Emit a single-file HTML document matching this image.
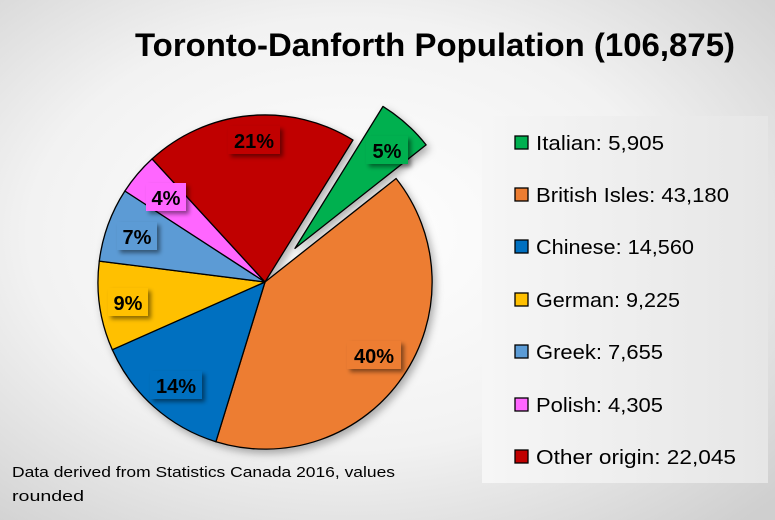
<!DOCTYPE html>
<html><head><meta charset="utf-8"><style>
html,body{margin:0;padding:0;width:775px;height:520px;overflow:hidden}
</style></head><body>
<svg width="775" height="520" viewBox="0 0 775 520" xmlns="http://www.w3.org/2000/svg" font-family="Liberation Sans, sans-serif">
<defs>
<radialGradient id="bg" cx="0.45" cy="0.45" r="0.75">
<stop offset="0" stop-color="#ffffff"/><stop offset="0.55" stop-color="#f2f2f2"/><stop offset="1" stop-color="#cfcfcf"/>
</radialGradient>
<linearGradient id="lg" x1="0" y1="0" x2="1" y2="0"><stop offset="0" stop-color="#f6f6f6"/><stop offset="1" stop-color="#e6e6e6"/></linearGradient>
<filter id="sh" x="-20%" y="-20%" width="150%" height="150%"><feDropShadow dx="3" dy="3" stdDeviation="2" flood-color="#000" flood-opacity="0.45"/></filter>
<filter id="psh" x="-20%" y="-20%" width="140%" height="140%"><feDropShadow dx="3" dy="4" stdDeviation="4" flood-color="#000" flood-opacity="0.3"/></filter>
</defs>
<rect width="775" height="520" fill="url(#bg)"/>
<text x="135" y="56" font-size="32" font-weight="bold" textLength="600" lengthAdjust="spacingAndGlyphs">Toronto-Danforth Population (106,875)</text>
<g stroke="#000" stroke-width="1.3" stroke-linejoin="round" filter="url(#psh)">
<path d="M295,248.4 L383,106.4 A167,167 0 0 1 426.1,144.9 Z" fill="#00b050"/>
<path d="M265,282 L396.1,178.5 A167,167 0 0 1 215.9,441.7 Z" fill="#ed7d31"/>
<path d="M265,282 L215.9,441.7 A167,167 0 0 1 112.3,349.7 Z" fill="#0070c0"/>
<path d="M265,282 L112.3,349.7 A167,167 0 0 1 99.3,261.1 Z" fill="#ffc000"/>
<path d="M265,282 L99.3,261.1 A167,167 0 0 1 124.9,191 Z" fill="#5b9bd5"/>
<path d="M265,282 L124.9,191 A167,167 0 0 1 152.1,158.9 Z" fill="#ff66ff"/>
<path d="M265,282 L152.1,158.9 A167,167 0 0 1 353,140 Z" fill="#c00000"/>
</g>
<g font-size="20" font-weight="bold" text-anchor="middle">
<rect x="228" y="126" width="52" height="28" fill="#c00000" filter="url(#sh)"/><text x="254" y="148">21%</text>
<rect x="366" y="136" width="42" height="28" fill="#00b050" filter="url(#sh)"/><text x="387" y="158">5%</text>
<rect x="146" y="183" width="40" height="28" fill="#ff66ff" filter="url(#sh)"/><text x="166" y="205">4%</text>
<rect x="117" y="222" width="40" height="28" fill="#5b9bd5" filter="url(#sh)"/><text x="137" y="244">7%</text>
<rect x="108" y="288" width="40" height="28" fill="#ffc000" filter="url(#sh)"/><text x="128" y="310">9%</text>
<rect x="150" y="371" width="52" height="28" fill="#0070c0" filter="url(#sh)"/><text x="176" y="393">14%</text>
<rect x="347" y="341" width="54" height="28" fill="#ed7d31" filter="url(#sh)"/><text x="374" y="363">40%</text>
</g>
<rect x="482" y="116" width="286" height="367" fill="url(#lg)"/>
<g font-size="20" stroke="#000" stroke-width="1.3">
<rect x="515" y="136" width="13" height="13" fill="#00b050"/>
<rect x="515" y="188" width="13" height="13" fill="#ed7d31"/>
<rect x="515" y="240" width="13" height="13" fill="#0070c0"/>
<rect x="515" y="293" width="13" height="13" fill="#ffc000"/>
<rect x="515" y="345" width="13" height="13" fill="#5b9bd5"/>
<rect x="515" y="398" width="13" height="13" fill="#ff66ff"/>
<rect x="515" y="450" width="13" height="13" fill="#c00000"/>
</g>
<g font-size="20" fill="#000">
<text x="536" y="150" textLength="128" lengthAdjust="spacingAndGlyphs">Italian: 5,905</text>
<text x="536" y="202" textLength="193" lengthAdjust="spacingAndGlyphs">British Isles: 43,180</text>
<text x="536" y="254" textLength="158" lengthAdjust="spacingAndGlyphs">Chinese: 14,560</text>
<text x="536" y="307" textLength="144" lengthAdjust="spacingAndGlyphs">German: 9,225</text>
<text x="536" y="359" textLength="127" lengthAdjust="spacingAndGlyphs">Greek: 7,655</text>
<text x="536" y="412" textLength="127" lengthAdjust="spacingAndGlyphs">Polish: 4,305</text>
<text x="536" y="464" textLength="200" lengthAdjust="spacingAndGlyphs">Other origin: 22,045</text>
</g>
<g font-size="15" fill="#000">
<text x="12" y="477" textLength="383" lengthAdjust="spacingAndGlyphs">Data derived from Statistics Canada 2016, values</text>
<text x="12" y="501" textLength="72" lengthAdjust="spacingAndGlyphs">rounded</text>
</g>
</svg>
</body></html>
